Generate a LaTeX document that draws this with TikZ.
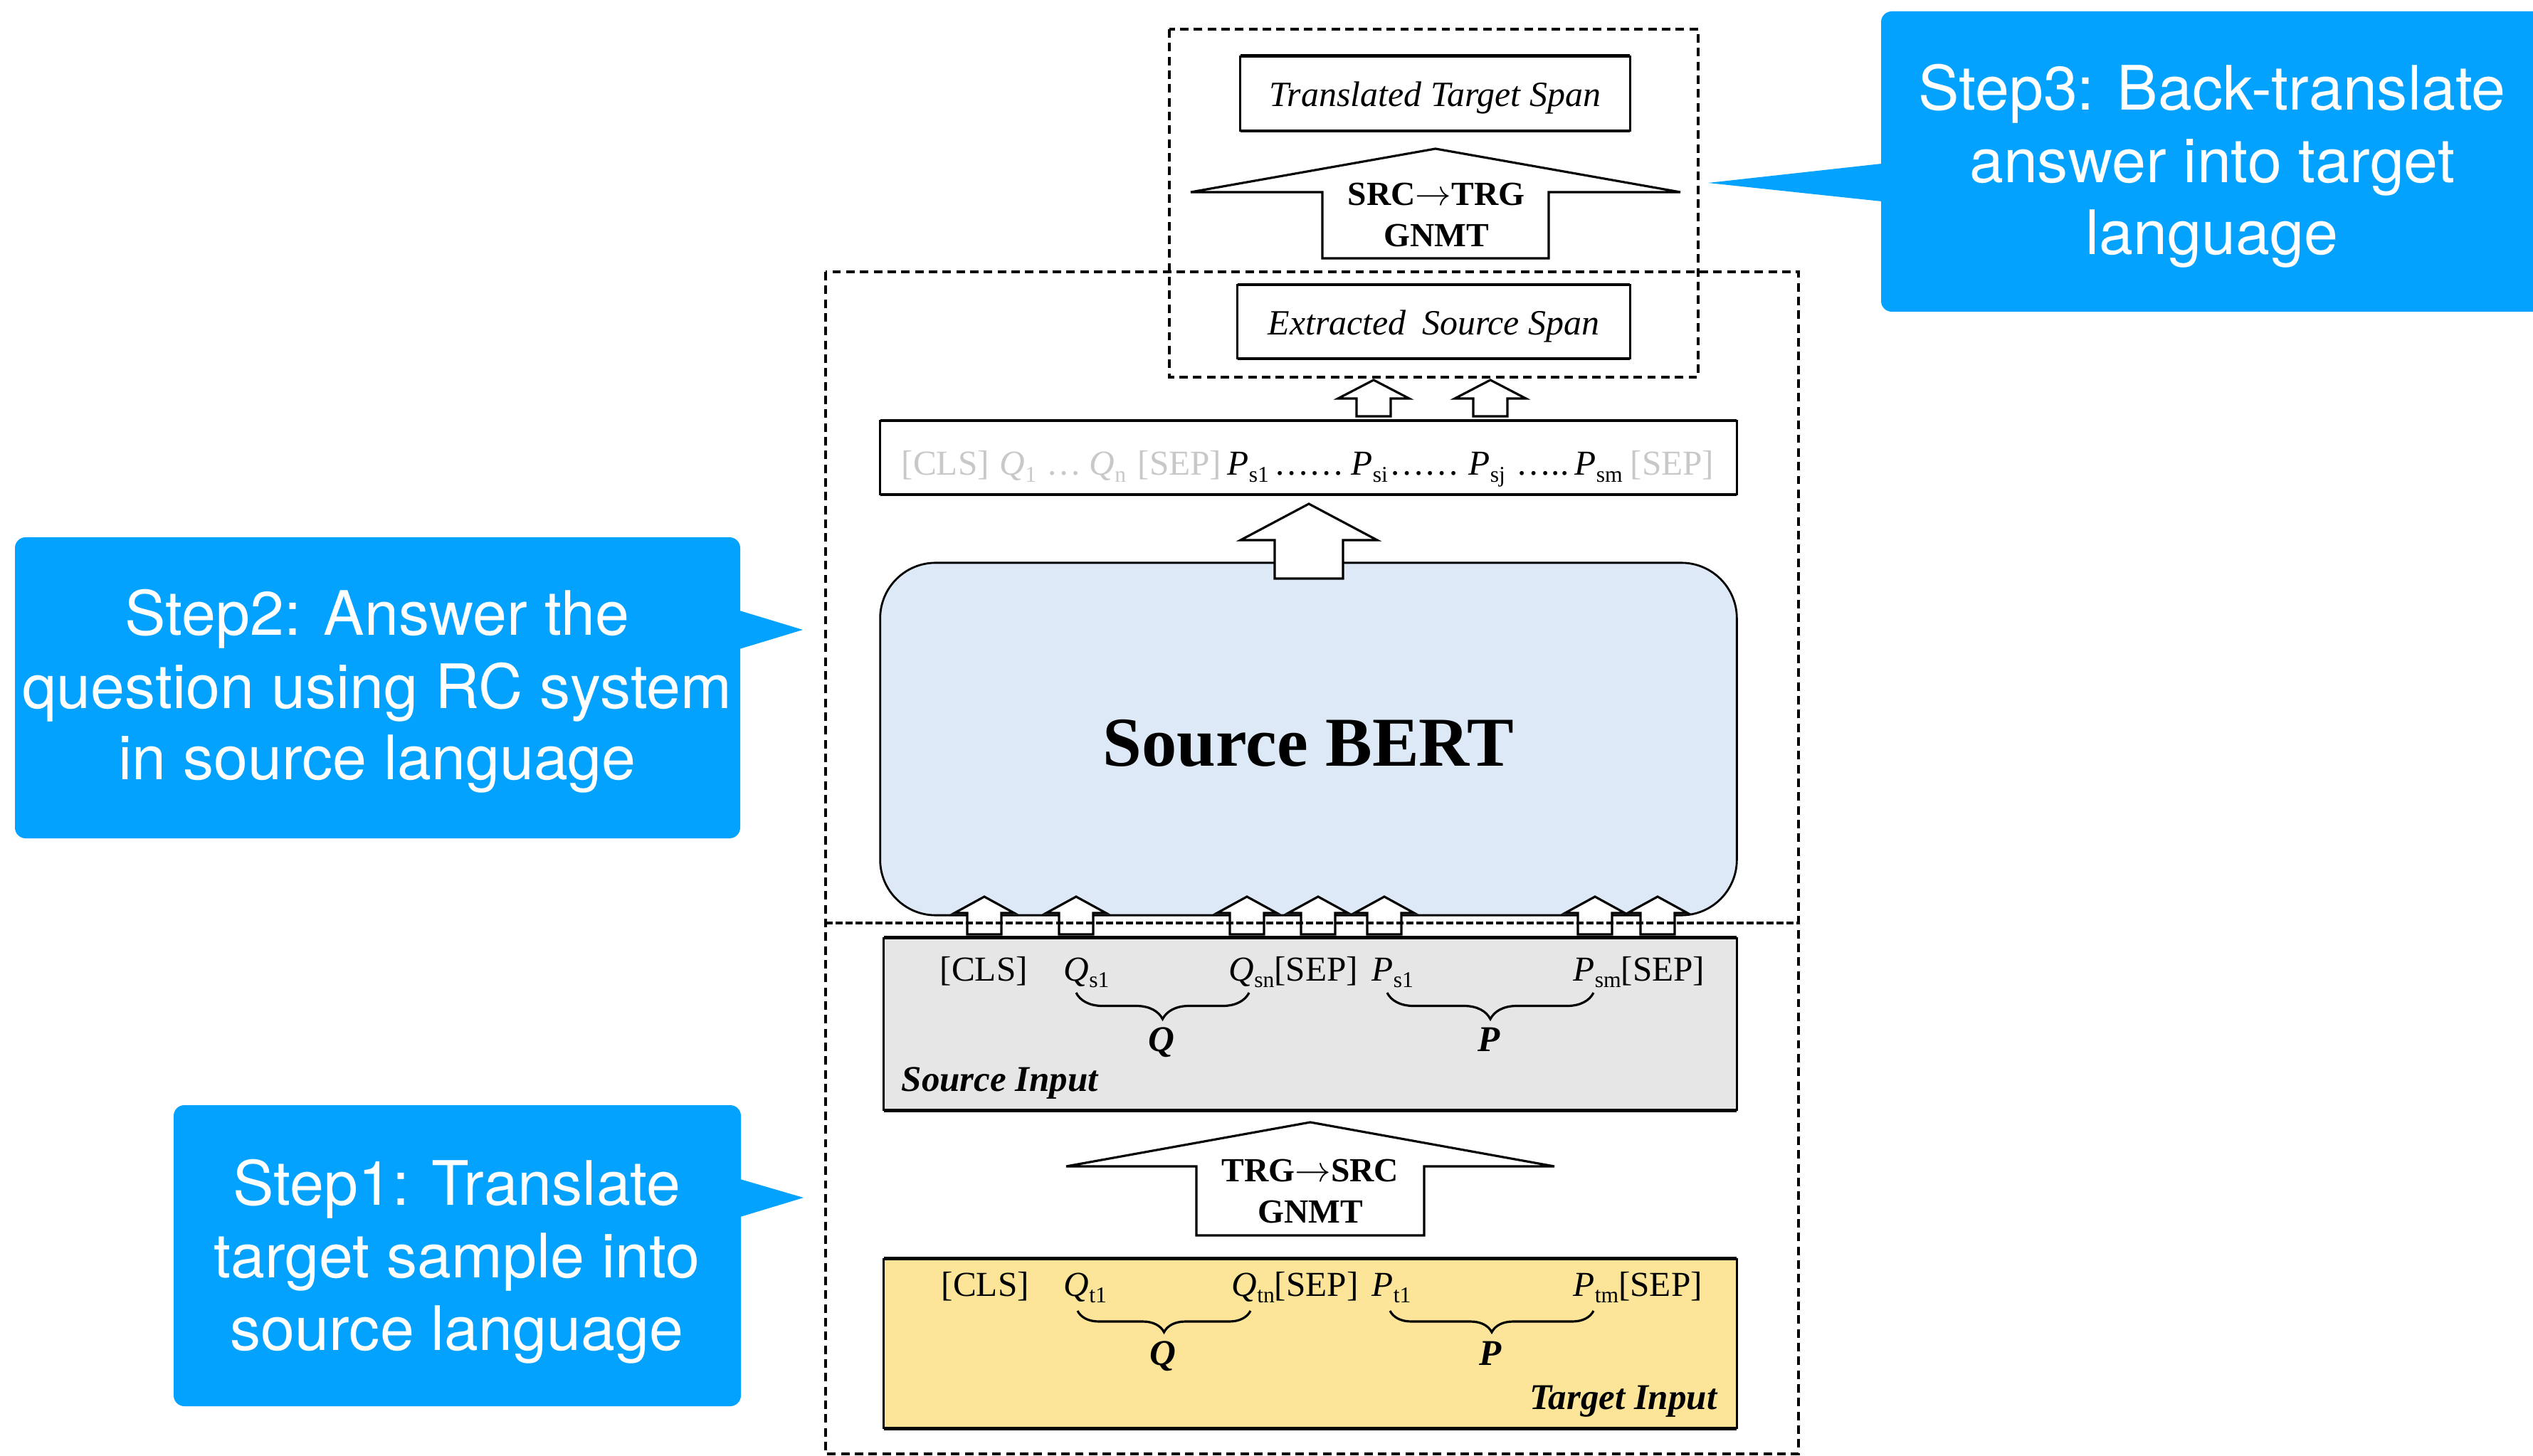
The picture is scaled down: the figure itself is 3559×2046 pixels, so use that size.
\documentclass[tikz,border=0pt]{standalone}
\usepackage{fontspec}
\setmainfont{Liberation Serif}
\newfontfamily\calloutfont{TeX Gyre Heros}
\usetikzlibrary{decorations.pathreplacing}

\definecolor{stepblue}{RGB}{3,162,255}
\definecolor{bertblue}{RGB}{221,233,246}
\definecolor{inputgray}{RGB}{230,230,230}
\definecolor{targetyellow}{RGB}{252,229,153}
\definecolor{tokgray}{RGB}{200,200,200}

% subscript used in the token rows
\newcommand\tsub[1]{\raisebox{-0.2em}{\fontsize{9}{9}\selectfont #1}}
% hollow block arrow pointing up: centre x, tip y, barb y, bottom y, head half width, shaft half width
\newcommand\hollowarrow[6]{%
  \filldraw[blockarrow] (#1,#2) -- ({#1+#5},#3) -- ({#1+#6},#3) -- ({#1+#6},#4)
    -- ({#1-#6},#4) -- ({#1-#6},#3) -- ({#1-#5},#3) -- cycle;}

\begin{document}
\begin{tikzpicture}[x=0.01cm,y=-0.01cm,
  callout/.style={fill=stepblue},
  calltext/.style={font=\calloutfont\fontsize{24.5}{29}\selectfont, text=white, anchor=base, inner sep=0pt},
  spanbox/.style={draw, line width=0.8pt, outer sep=0pt, inner sep=0pt,
    append after command={(\tikzlastnode.north west) edge[line width=1.4pt] (\tikzlastnode.north east)
      (\tikzlastnode.south west) edge[line width=1.4pt] (\tikzlastnode.south east)}},
  spantext/.style={font=\itshape\fontsize{14.2}{16}\selectfont, text height=10.5pt, text depth=0pt},
  blockarrow/.style={draw, fill=white, line width=0.9pt, line join=miter},
  arrtext/.style={font=\bfseries\fontsize{13.5}{16}\selectfont, anchor=base, inner sep=0pt},
  tok/.style={font=\fontsize{14}{16}\selectfont, inner sep=0pt, anchor=base west},
  lbl/.style={font=\bfseries\itshape\fontsize{14.5}{16}\selectfont, inner sep=0pt},
  bracestyle/.style={draw, line width=0.9pt, decorate, decoration={brace, mirror, amplitude=#1}},
  dashbox/.style={line width=1.1pt, dash pattern=on 3.4pt off 2.1pt},
  divider/.style={line width=1.1pt, dash pattern=on 2.85pt off 1.15pt}
]
\useasboundingbox (0,0) rectangle (3559,2046);
\clip (0,0) rectangle (3559,2046);

% ---------- step callouts ----------
\fill[callout, rounded corners=0.15cm] (244,1553) rectangle (1041,1976);
\fill[callout] (1040,1657) -- (1129,1683) -- (1040,1710) -- cycle;
\node[calltext] (s1a) at (642,1693) {Step1: Translate};
\node[calltext] (s1b) at (642,1795) {target sample into};
\node[calltext] (s1c) at (642,1897) {source language};

\fill[callout, rounded corners=0.15cm] (21,755) rectangle (1040,1178);
\fill[callout] (1039,858) -- (1128,885) -- (1039,912) -- cycle;
\node[calltext] (s2a) at (530,893) {Step2: Answer the};
\node[calltext] (s2b) at (530,995) {question using RC system};
\node[calltext] (s2c) at (530,1096) {in source language};

\fill[callout, rounded corners=0.15cm] (2643,16) rectangle (3575,438);
\fill[callout] (2644,230) -- (2400,257) -- (2644,283) -- cycle;
\node[calltext] (s3a) at (3108,155) {Step3: Back-translate};
\node[calltext] (s3b) at (3108,257) {answer into target};
\node[calltext] (s3c) at (3108,358) {language};

% ---------- boxes ----------
\node[spanbox, spantext, minimum width=5.47cm, minimum height=1.05cm] (tts) at (2016.5,131.5) {Translated Target Span};
\node[spanbox, spantext, minimum width=5.51cm, minimum height=1.04cm] (ess) at (2014.5,452) {Extracted\hspace{0.2em} Source Span};
\node[spanbox, minimum width=12.03cm, minimum height=1.04cm] (tokrow) at (1838.5,643) {};
\node[draw, line width=0.8pt, fill=bertblue, rounded corners=0.78cm, outer sep=0pt, inner sep=0pt,
      minimum width=12.03cm, minimum height=4.95cm,
      font=\bfseries\fontsize{28}{30}\selectfont, text height=21.6pt, text depth=0pt] (bert) at (1838.5,1038.5) {Source BERT};
\node[spanbox, fill=inputgray, minimum width=11.98cm, minimum height=2.42cm] (srcin) at (1841,1439) {};
\node[spanbox, fill=targetyellow, minimum width=11.98cm, minimum height=2.38cm] (trgin) at (1841,1888) {};

% ---------- block arrows ----------
\hollowarrow{2017}{209}{270}{363}{344}{159}
\node[arrtext] (a1a) at (2018,289) {SRC$\rightarrow$TRG};
\node[arrtext] (a1b) at (2018,347) {GNMT};

\hollowarrow{1841}{1577}{1639}{1736}{343}{160}
\node[arrtext] (a2a) at (1841,1660) {TRG$\rightarrow$SRC};
\node[arrtext] (a2b) at (1841,1718) {GNMT};

\hollowarrow{1839}{708}{759}{813}{96}{48}
\hollowarrow{1930}{534}{560}{585}{50}{24}
\hollowarrow{2094}{534}{560}{585}{50}{24}
\foreach \cx in {1383,1512,1752,1852,1945,2241,2329}{
  \hollowarrow{\cx}{1260}{1283}{1313}{42}{24}
}

% ---------- token row above the encoder ----------
\node[tok, text=tokgray] (r1) at (1266,668) {[CLS]};
\node[tok, text=tokgray] (r2) at (1404,668) {\textit{Q}\tsub{1}};
\node[tok, text=tokgray] (r3) at (1470,668) {…};
\node[tok, text=tokgray] (r4) at (1530,668) {\textit{Q}\tsub{n}};
\node[tok, text=tokgray] (r5) at (1598,668) {[SEP]};
\node[tok] (r6) at (1724,668) {\textit{P}\tsub{s1}};
\node[tok] (r7) at (1790,668) {……};
\node[tok] (r8) at (1898,668) {\textit{P}\tsub{si}};
\node[tok] (r9) at (1952,668) {……};
\node[tok] (r10) at (2063,668) {\textit{P}\tsub{sj}};
\node[tok] (r11) at (2130,668) {…..};
\node[tok] (r12) at (2212,668) {\textit{P}\tsub{sm}};
\node[tok, text=tokgray] (r13) at (2290,668) {[SEP]};

% ---------- source input ----------
\node[tok] (u1) at (1320,1378) {[CLS]};
\node[tok] (u2) at (1494,1378) {\textit{Q}\tsub{s1}};
\node[tok] (u3) at (1726,1378) {\textit{Q}\tsub{sn}[SEP]};
\node[tok] (u4) at (1927,1378) {\textit{P}\tsub{s1}};
\node[tok] (u5) at (2210,1378) {\textit{P}\tsub{sm}[SEP]};
\draw[bracestyle=0.37cm] (1512,1395) -- (1755,1395);
\draw[bracestyle=0.37cm] (1949,1395) -- (2239,1395);
\node[lbl, anchor=base] (uq) at (1632,1477) {Q};
\node[lbl, anchor=base] (up) at (2092,1477) {P};
\node[lbl, anchor=base west] (ulabel) at (1266,1533) {Source Input};

% ---------- target input ----------
\node[tok] (v1) at (1322,1821) {[CLS]};
\node[tok] (v2) at (1494,1821) {\textit{Q}\tsub{t1}};
\node[tok] (v3) at (1730,1821) {\textit{Q}\tsub{tn}[SEP]};
\node[tok] (v4) at (1927,1821) {\textit{P}\tsub{t1}};
\node[tok] (v5) at (2210,1821) {\textit{P}\tsub{tm}[SEP]};
\draw[bracestyle=0.30cm] (1514,1842) -- (1757,1842);
\draw[bracestyle=0.30cm] (1953,1842) -- (2239,1842);
\node[lbl, anchor=base] (vq) at (1634,1918) {Q};
\node[lbl, anchor=base] (vp) at (2094,1918) {P};
\node[lbl, anchor=base east] (vlabel) at (2413,1980) {Target Input};

% ---------- dashed stage frames ----------
\draw[dashbox] (1643,41) rectangle (2386,530);
\draw[dashbox] (1160,382) rectangle (2527,2043);
\draw[divider] (1160,1297) -- (2527,1297);
\end{tikzpicture}
\end{document}
